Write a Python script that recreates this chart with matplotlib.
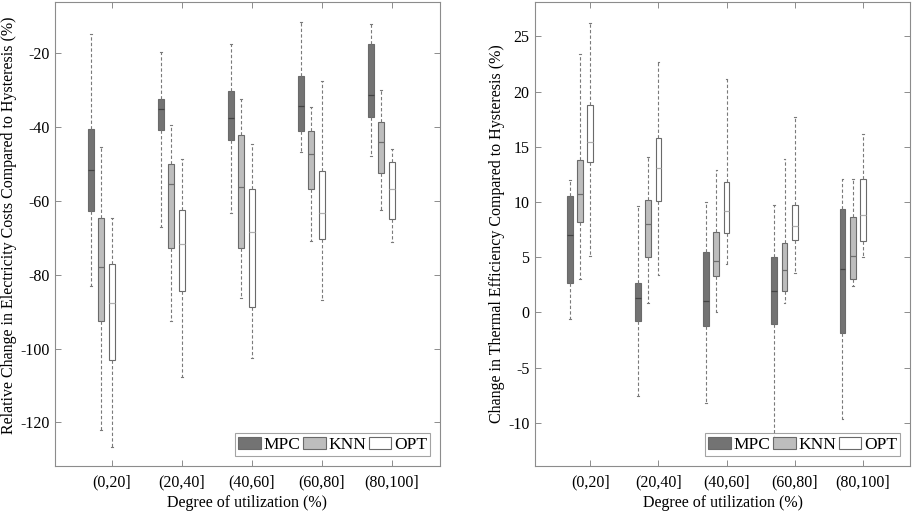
import matplotlib.pyplot as plt
from matplotlib.patches import Patch

plt.rcParams['font.family'] = ['Liberation Serif', 'DejaVu Serif']

groups = ['(0,20]', '(20,40]', '(40,60]', '(60,80]', '(80,100]']
methods = ['MPC', 'KNN', 'OPT']

# each box: (whisker low, q1, median, q3, whisker high)
cost_mpc = [(-82.9, -62.6, -51.5, -40.4, -14.7), (-67.0, -40.7, -35.2, -32.4, -19.6),
            (-63.3, -43.6, -37.5, -30.3, -17.4), (-46.8, -41.1, -34.2, -26.2, -11.5),
            (-47.9, -37.3, -31.4, -17.6, -12.0)]
cost_knn = [(-122.0, -92.6, -77.9, -64.5, -45.4), (-92.6, -72.7, -55.4, -49.9, -39.5),
            (-86.2, -72.7, -56.1, -42.2, -32.4), (-70.8, -56.7, -47.3, -41.1, -34.5),
            (-62.4, -52.4, -43.9, -38.5, -30.0)]
cost_opt = [(-126.7, -103.1, -87.6, -77.2, -64.5), (-107.8, -84.4, -71.7, -62.4, -48.6),
            (-102.6, -88.8, -68.4, -56.7, -44.5), (-86.9, -70.3, -63.2, -51.8, -27.5),
            (-71.0, -64.9, -56.7, -49.5, -45.9)]

eff_mpc = [(-0.6, 2.65, 7.0, 10.5, 12.0), (-7.6, -0.8, 1.3, 2.7, 9.6),
           (-8.2, -1.2, 1.0, 5.5, 10.0), (-11.4, -1.0, 1.9, 5.0, 9.7),
           (-9.6, -1.9, 3.9, 9.4, 12.05)]
eff_knn = [(3.0, 8.2, 10.75, 13.8, 23.4), (0.9, 5.0, 8.0, 10.2, 14.1),
           (0.0, 3.3, 4.7, 7.3, 12.9), (0.9, 1.9, 3.8, 6.3, 13.9),
           (2.4, 3.0, 5.1, 8.6, 12.05)]
eff_opt = [(5.1, 13.6, 15.4, 18.75, 26.2), (3.4, 10.1, 13.1, 15.8, 22.7),
           (4.4, 7.2, 9.2, 11.8, 21.1), (3.6, 6.6, 7.8, 9.7, 17.7),
           (5.0, 6.5, 8.8, 12.05, 16.2)]

face = {'MPC': '#737373', 'KNN': '#bdbdbd', 'OPT': '#ffffff'}
medc = {'MPC': '#444444', 'KNN': '#6e6e6e', 'OPT': '#b0b0b0'}
offset = {'MPC': -0.3, 'KNN': -0.15, 'OPT': 0.0}
edge = '#6a6a6a'
axc = '#8c8c8c'


def draw(ax, data, ylim, yticks, ylabel, label_y):
    for m, boxes in zip(methods, data):
        stats = [dict(whislo=b[0], q1=b[1], med=b[2], q3=b[3], whishi=b[4]) for b in boxes]
        pos = [i + 1 + offset[m] for i in range(len(groups))]
        ax.bxp(stats, positions=pos, widths=0.085, capwidths=0.025, showfliers=False,
               patch_artist=True,
               boxprops=dict(facecolor=face[m], edgecolor=edge, linewidth=0.8),
               medianprops=dict(color=medc[m], linewidth=0.9),
               whiskerprops=dict(color='#7a7a7a', linewidth=0.8, linestyle=(0, (3, 2))),
               capprops=dict(color='#7a7a7a', linewidth=0.8),
               manage_ticks=False)
    ax.set_xlim(0.19, 5.69)
    ax.set_ylim(*ylim)
    ax.set_xticks(range(1, len(groups) + 1))
    ax.set_xticklabels(groups)
    ax.set_yticks(yticks)
    ax.set_yticklabels([str(t) for t in yticks])
    ax.tick_params(direction='in', length=4, width=0.7, color=axc, labelsize=11.5,
                   top=True, right=True, pad=4)
    ax.tick_params(axis='x', pad=6)
    for s in ax.spines.values():
        s.set_color(axc)
        s.set_linewidth(0.8)
    ax.set_xlabel('Degree of utilization (%)', fontsize=11.5, labelpad=3)
    ax.set_ylabel(ylabel, fontsize=11.5, labelpad=2, y=label_y)
    handles = [Patch(facecolor=face[m], edgecolor=edge, linewidth=0.8, label=m) for m in methods]
    leg = ax.legend(handles=handles, loc='lower right', ncol=3, fontsize=12.5,
                    frameon=True, fancybox=False, edgecolor=axc,
                    handlelength=1.3, handleheight=0.75, handletextpad=0.15,
                    columnspacing=0.15, borderpad=0.2, borderaxespad=0.55)
    leg.get_frame().set_linewidth(0.8)


fig = plt.figure(figsize=(9.13, 5.11), dpi=100)
ax1 = fig.add_axes([0.0602, 0.088, 0.4217, 0.908])
ax2 = fig.add_axes([0.586, 0.088, 0.4107, 0.908])

draw(ax1, [cost_mpc, cost_knn, cost_opt], (-131.8, -6.1), [-120, -100, -80, -60, -40, -20],
     'Relative Change in Electricity Costs Compared to Hysteresis (%)', 0.52)
draw(ax2, [eff_mpc, eff_knn, eff_opt], (-13.9, 28.1), [-10, -5, 0, 5, 10, 15, 20, 25],
     'Change in Thermal Efficiency Compared to Hysteresis (%)', 0.5)

fig.savefig('out.png', dpi=100)
